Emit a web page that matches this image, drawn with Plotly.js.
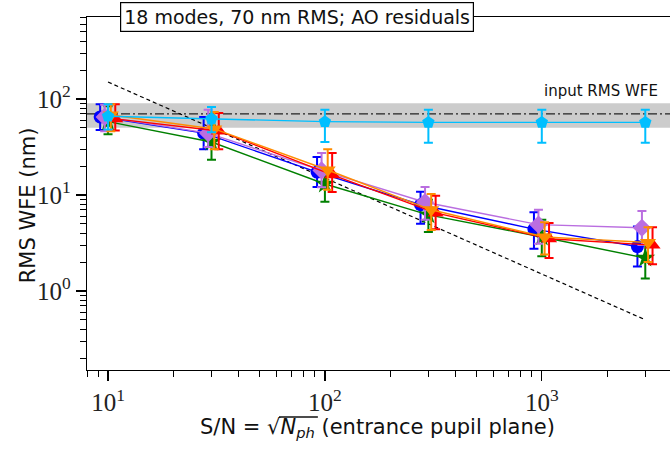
<!DOCTYPE html>
<html><head><meta charset="utf-8">
<script src="https://cdn.plot.ly/plotly-3.0.1.min.js"></script>
<style>body{margin:0;background:#fff}#plot{width:670px;height:450px}</style>
</head><body><div id="plot"></div>
<script>
const snr = [10, 30, 100, 300, 1000, 3000];

const blueVal = [65, 44, 17.3, 7.9, 4.4, 2.9];
const blueHi  = [88, 65, 24.9, 10.8, 6.6, 4.7];
const blueLo  = [47.5, 30, 12.1, 5.0, 2.75, 1.8];

const purpleVal = [65, 44, 18, 8.4, 4.9, 4.55];
const purpleHi  = [87, 77, 27.4, 12.1, 7.0, 6.8];
const purpleLo  = [46, 31.6, 12, 5.5, 3.1, 3.0];

const greenVal = [58, 35.6, 13.0, 6.2, 3.65, 2.2];
const greenHi  = [84, 53, 18, 8.9, 5.5, 3.4];
const greenLo  = [43, 23.2, 8.5, 4.1, 2.3, 1.35];

const cyanVal = [66, 62, 58, 57, 57, 57];
const cyanHi  = [88, 82.5, 77, 77, 77, 77];
const cyanLo  = [48, 45, 35.6, 35, 35, 35];

const orangeVal = [68, 48.7, 18.2, 7.0, 3.65, 3.2];
const orangeHi  = [88, 73, 30, 10.2, 5.2, 4.6];
const orangeLo  = [46, 30, 11.3, 4.3, 2.4, 2.0];

const redVal = [62, 46.4, 16.2, 6.5, 3.5, 3.0];
const redHi  = [88, 71.5, 27.4, 9.8, 5.1, 4.6];
const redLo  = [47, 30, 10.7, 4.4, 2.2, 1.9];

const inputRms = 70, inputLo = 50, inputHi = 90;
const refX = [10, 3000];
const refY = [150, 0.5];

const xRange = [8, 3900];
const yRange = [0.15, 714];

const xTickVals = [10, 100, 1000];
const xTickText = ['10<sup>1</sup>', '10<sup>2</sup>', '10<sup>3</sup>'];
const yTickVals = [1, 10, 100];
const yTickText = ['10<sup>0</sup>', '10<sup>1</sup>', '10<sup>2</sup>'];

function series(val, hi, lo, dodge, color, symbol, size) {
  return {
    x: snr.map(v => v * dodge), y: val, type: 'scatter', mode: 'lines+markers',
    line: {color: color, width: 1.4},
    marker: {color: color, symbol: symbol, size: size, line: {width: 0}},
    error_y: {type: 'data', symmetric: false,
      array: hi.map((h, i) => h - val[i]), arrayminus: lo.map((l, i) => val[i] - l),
      color: color, thickness: 2, width: 4.5},
    showlegend: false, hoverinfo: 'skip'
  };
}

const traces = [
  {x: xRange, y: [inputLo, inputLo], type: 'scatter', mode: 'lines', line: {width: 0, color: 'rgba(0,0,0,0)'}, showlegend: false, hoverinfo: 'skip'},
  {x: xRange, y: [inputHi, inputHi], type: 'scatter', mode: 'lines', fill: 'tonexty', fillcolor: '#cccccc', line: {width: 0, color: 'rgba(0,0,0,0)'}, showlegend: false, hoverinfo: 'skip'},
  {x: xRange, y: [inputRms, inputRms], type: 'scatter', mode: 'lines', line: {color: '#222', width: 1.2, dash: '9px,3px,2px,3px'}, showlegend: false, hoverinfo: 'skip'},
  {x: refX, y: refY, type: 'scatter', mode: 'lines', line: {color: '#000', width: 1.2, dash: '4px,3px'}, showlegend: false, hoverinfo: 'skip'},
  series(blueVal, blueHi, blueLo, 0.92, '#0000ff', 'circle', 13),
  series(greenVal, greenHi, greenLo, 1.0, '#008000', 'star', 15),
  series(purpleVal, purpleHi, purpleLo, 0.965, '#ba6ee0', 'diamond', 14),
  series(redVal, redHi, redLo, 1.08, '#ff0000', 'triangle-up', 14),
  series(orangeVal, orangeHi, orangeLo, 1.03, '#ff8c00', 'triangle-down', 14),
  series(cyanVal, cyanHi, cyanLo, 1.0, '#00bfff', 'pentagon', 13)
];

const sansFont = 'DejaVu Sans, Liberation Sans, sans-serif';
const serifFont = 'Liberation Serif, DejaVu Serif, serif';

const layout = {
  width: 670, height: 450,
  margin: {l: 87, r: 0, t: 17, b: 80},
  paper_bgcolor: '#fff', plot_bgcolor: '#fff',
  xaxis: {type: 'log', range: xRange.map(Math.log10), showgrid: false, zeroline: false,
    showline: true, linecolor: '#000', linewidth: 1.3, mirror: true,
    ticks: 'outside', ticklen: 10, tickwidth: 1.3, tickcolor: '#000',
    tickvals: xTickVals, ticktext: xTickText,
    tickfont: {family: serifFont, size: 25, color: '#222'},
    minor: {ticks: 'outside', ticklen: 6, tickwidth: 1, tickcolor: '#000', dtick: 'D1', showgrid: false}},
  yaxis: {type: 'log', range: yRange.map(Math.log10), showgrid: false, zeroline: false,
    showline: true, linecolor: '#000', linewidth: 1.3, mirror: false,
    ticks: 'outside', ticklen: 10, tickwidth: 1.3, tickcolor: '#000',
    tickvals: yTickVals, ticktext: yTickText,
    tickfont: {family: serifFont, size: 25, color: '#222'},
    minor: {ticks: 'outside', ticklen: 6, tickwidth: 1, tickcolor: '#000', dtick: 'D1', showgrid: false}},
  shapes: [
    {type: 'line', xref: 'paper', yref: 'paper', x0: 0.3293, x1: 0.396, y0: -0.1331, y1: -0.1331,
     line: {color: '#111', width: 1.3}}
  ],
  annotations: [
    {text: '18 modes, 70 nm RMS; AO residuals', xref: 'paper', yref: 'paper', x: 0.361, y: 1,
     xanchor: 'center', yanchor: 'middle', showarrow: false, bgcolor: '#fff', bordercolor: '#000',
     borderwidth: 1.2, borderpad: 3, font: {family: sansFont, size: 19, color: '#111'}},
    {text: 'input RMS WFE', xref: 'paper', yref: 'y', x: 0.983, y: Math.log10(inputHi),
     xanchor: 'right', yanchor: 'bottom', yshift: 1, showarrow: false,
     font: {family: sansFont, size: 15, color: '#111'}},
    {text: 'RMS WFE (nm)', xref: 'paper', yref: 'paper', x: -0.101, y: 0.467, textangle: -90,
     xanchor: 'center', yanchor: 'middle', showarrow: false,
     font: {family: sansFont, size: 21, color: '#111'}},
    {text: 'S/N = √<i>N<sub>ph</sub></i> (entrance pupil plane)', xref: 'paper', yref: 'paper', x: 0.499, y: -0.165,
     xanchor: 'center', yanchor: 'middle', showarrow: false,
     font: {family: sansFont, size: 21, color: '#111'}}
  ]
};

Plotly.newPlot('plot', traces, layout, {staticPlot: true, displayModeBar: false});
</script></body></html>
